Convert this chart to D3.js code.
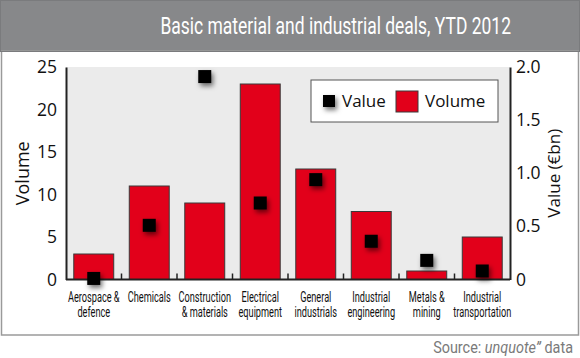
<!DOCTYPE html>
<html><head><meta charset="utf-8">
<script src="https://cdnjs.cloudflare.com/ajax/libs/d3/7.8.5/d3.min.js"></script>
<style>body{margin:0;background:#fff}svg{display:block}</style>
</head><body><svg id="c" width="580" height="358"></svg>
<script>
const categories = [["Aerospace &","defence"],["Chemicals",""],["Construction","& materials"],["Electrical","equipment"],["General","industrials"],["Industrial","engineering"],["Metals &","mining"],["Industrial","transportation"]];
const volume = [3, 11, 9, 23, 13, 8, 1, 5];
const value = [0.01, 0.51, 1.91, 0.72, 0.94, 0.36, 0.18, 0.08];
const leftTicks = [0, 5, 10, 15, 20, 25];
const rightTicks = [0, 0.5, 1.0, 1.5, 2.0];
const rightTickLabels = ["0", "0.5", "1.0", "1.5", "2.0"];

const svg = d3.select("#c");
const W = 580, H = 358;
const condFont = "Roboto, 'Liberation Sans', sans-serif";
const defs = svg.append("defs");
const f = defs.append("filter").attr("id","sh").attr("x","-50%").attr("y","-50%").attr("width","250%").attr("height","250%");
f.append("feDropShadow").attr("dx",2).attr("dy",3).attr("stdDeviation",2.5).attr("flood-color","#000").attr("flood-opacity",0.55);

function condensed(parent, xr, y, width, build) {
  const g = parent.append("g");
  const t = g.append("text").attr("x",0).attr("y",0).attr("text-anchor","end");
  build(t);
  const w = t.node().getComputedTextLength();
  g.attr("transform",`translate(${xr},${y}) scale(${width / w},1)`);
  return g;
}

// header
svg.append("rect").attr("x",0).attr("y",0).attr("width",W).attr("height",52).attr("fill","#87888a");
// panel
svg.append("rect").attr("x",1.5).attr("y",51).attr("width",W-3).attr("height",284).attr("fill","#fff").attr("stroke","#9a9a9a").attr("stroke-width",1.5);
svg.append("rect").attr("x",0.5).attr("y",0.5).attr("width",W-1).attr("height",51).attr("fill","none").attr("stroke","#7a7b7d").attr("stroke-width",1);

condensed(svg, 511, 34, 351, t => t.attr("font-family",condFont).attr("font-size",23).attr("font-weight",400)
  .attr("fill","#fff").text("Basic material and industrial deals, YTD 2012"));

const x0 = 66, x1 = 510, yTop = 67, yBot = 279.5;
const x = d3.scaleBand().domain(d3.range(categories.length)).range([x0, x1]).paddingInner(0.28).paddingOuter(0.14);
const yL = d3.scaleLinear().domain([0, 25]).range([yBot, yTop]);
const yR = d3.scaleLinear().domain([0, 2]).range([yBot, yTop]);

svg.append("rect").attr("x",x0).attr("y",yTop).attr("width",x1-x0).attr("height",yBot-yTop).attr("fill","#ebebeb");

// bars
svg.append("g").selectAll("rect").data(volume).join("rect")
  .attr("x",(d,i)=>x(i)).attr("width",x.bandwidth())
  .attr("y",d=>yL(d)).attr("height",d=>yBot-yL(d))
  .attr("fill","#e2001a").attr("stroke","#3a3a3a").attr("stroke-width",1);

// axes
const tickFont = "'Open Sans','Noto Sans',sans-serif";
const gl = svg.append("g").attr("transform",`translate(${x0},0)`).call(d3.axisLeft(yL).tickValues(leftTicks).tickSize(0).tickPadding(9).tickFormat(d3.format("d")));
const gr = svg.append("g").attr("transform",`translate(${x1},0)`).call(d3.axisRight(yR).tickValues(rightTicks).tickSize(0).tickPadding(6).tickFormat((d,i)=>rightTickLabels[i]));
[gl,gr].forEach(g=>{
  g.select(".domain").attr("stroke","#222").attr("stroke-width",2);
  g.selectAll("text").attr("font-family",tickFont).attr("font-size",17.5).attr("fill","#111");
});
const band = (x1-x0)/categories.length;
const gb = svg.append("g").attr("transform",`translate(0,${yBot})`).call(d3.axisBottom(x).tickSize(0).tickFormat(""));
gb.select(".domain").attr("stroke","#222").attr("stroke-width",2).attr("d",`M${x0},0H${x1}`);
gb.selectAll(".tick").remove();
svg.append("g").selectAll("line").data(d3.range(1,categories.length)).join("line")
  .attr("x1",i=>x0+i*band).attr("x2",i=>x0+i*band).attr("y1",yBot).attr("y2",yBot-6)
  .attr("stroke","#222").attr("stroke-width",1.5);

// x labels
const lab = svg.append("g").attr("font-family",condFont).attr("font-size",14).attr("fill","#111").attr("text-anchor","middle");
const probe = lab.append("text").text("Chemicals");
const sx = 43 / probe.node().getComputedTextLength();
probe.remove();
categories.forEach((c,i)=>{
  const cx = x(i)+x.bandwidth()/2;
  lab.append("text").attr("transform",`translate(${cx},302) scale(${sx},1)`).text(c[0]);
  if (c[1]) lab.append("text").attr("transform",`translate(${cx},317) scale(${sx},1)`).text(c[1]);
});

// value markers
svg.append("g").selectAll("rect").data(value).join("rect")
  .attr("x",(d,i)=>x(i)+x.bandwidth()/2-6.5).attr("y",d=>yR(d)-6.5)
  .attr("width",13).attr("height",13).attr("fill","#000").attr("filter","url(#sh)");

// axis titles
svg.append("text").attr("transform",`translate(29,${(yTop+yBot)/2}) rotate(-90)`).attr("text-anchor","middle")
  .attr("font-family",tickFont).attr("font-size",18).attr("fill","#111").text("Volume");
svg.append("text").attr("transform",`translate(560,${(yTop+yBot)/2}) rotate(-90)`).attr("text-anchor","middle")
  .attr("font-family",tickFont).attr("font-size",17).attr("fill","#111").text("Value (€bn)");

// legend
const lg = svg.append("g");
lg.append("rect").attr("x",311).attr("y",80).attr("width",187).attr("height",42).attr("fill","#fff").attr("stroke","#555").attr("stroke-width",1);
lg.append("rect").attr("x",323).attr("y",95).attr("width",12).attr("height",12).attr("fill","#000").attr("filter","url(#sh)");
lg.append("text").attr("x",342).attr("y",107).attr("font-family",tickFont).attr("font-size",17).attr("fill","#111").text("Value");
lg.append("rect").attr("x",396).attr("y",91).attr("width",22).attr("height",21).attr("fill","#e2001a").attr("stroke","#3a3a3a").attr("stroke-width",1);
lg.append("text").attr("x",425).attr("y",107).attr("font-family",tickFont).attr("font-size",17).attr("fill","#111").text("Volume");

// source
condensed(svg, 573, 353, 140, t => {
  t.attr("font-family",condFont).attr("font-size",16).attr("fill","#7a7a7a");
  t.append("tspan").text("Source: ");
  t.append("tspan").attr("font-style","italic").text("unquote\u201D");
  t.append("tspan").text(" data");
});
</script></body></html>
